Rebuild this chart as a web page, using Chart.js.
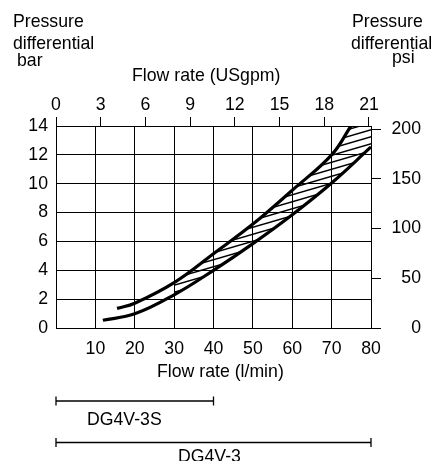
<!DOCTYPE html>
<html>
<head>
<meta charset="utf-8">
<script src="https://cdn.jsdelivr.net/npm/chart.js@4"></script>
<style>
  html, body { margin: 0; padding: 0; background: #fff; }
  canvas { display: block; }
</style>
</head>
<body>
<canvas id="chart" width="438" height="461"></canvas>
<script>
// pressure drop (bar) against flow (l/min), upper and lower limit curves
const upperFlow = [15.5, 20, 30, 40, 50, 60, 70, 74.9, 80];
const upperBar = [1.36, 1.72, 3.15, 5.15, 7.2, 9.55, 12.0, 14, 16.1];
const lowerFlow = [11.9, 20, 30, 40, 50, 60, 70, 80];
const lowerBar = [0.54, 0.98, 2.3, 4.0, 5.85, 7.85, 10.05, 12.55];

// band between the two curves is hatched from this flow on
const hatchFrom = 30;

const flowTicks = [10, 20, 30, 40, 50, 60, 70, 80];
const gpmTicks = [0, 3, 6, 9, 12, 15, 18, 21];
const barTicks = [0, 2, 4, 6, 8, 10, 12, 14];
const psiTicks = [0, 50, 100, 150, 200];

// flow ranges of the two valve sizes, l/min
const rangeNames = ['DG4V-3S', 'DG4V-3'];
const rangeMin = [0, 0];
const rangeMax = [40, 80];

const LPM_PER_GPM = 3.785;
const PSI_PER_BAR = 14.504;
const FONT_SIZE = 17.7;
const FAMILY = '"Liberation Sans", Arial, sans-serif';
const FONT = FONT_SIZE + 'px ' + FAMILY;

const pts = (xs, ys) => xs.map((x, i) => ({ x: x, y: ys[i] }));
const upper = pts(upperFlow, upperBar);
const lower = pts(lowerFlow, lowerBar);

// hatch pattern: thin lines rising to the right
function hatchPattern() {
  const w = 24, h = 7;
  const c = document.createElement('canvas');
  c.width = w;
  c.height = h;
  const g = c.getContext('2d');
  g.strokeStyle = '#000';
  g.lineWidth = 1.5;
  for (let k = -1; k <= 1; k++) {
    g.beginPath();
    g.moveTo(-w, 2 * h + k * h);
    g.lineTo(2 * w, -h + k * h);
    g.stroke();
  }
  return g.createPattern(c, 'repeat');
}

const setTicks = list => scale => {
  scale.ticks = list.map(v => ({ value: v }));
};

const annotations = {
  id: 'annotations',
  afterDraw(chart) {
    const { ctx } = chart;
    const x = chart.scales.x;
    ctx.save();
    ctx.fillStyle = '#000';
    ctx.strokeStyle = '#000';
    ctx.font = FONT;
    ctx.textAlign = 'left';
    ctx.textBaseline = 'alphabetic';
    const labels = [
      ['Pressure', 13, 27], ['differential', 13, 48.5], ['bar', 17, 65.5],
      ['Pressure', 352, 27], ['differential', 351, 48.5], ['psi', 392, 62.5],
      ['Flow rate (USgpm)', 132, 80.5],
      ['Flow rate (l/min)', 157, 376.5]
    ];
    labels.forEach(([t, lx, ly]) => ctx.fillText(t, lx, ly));

    const lineY = [401, 442.5];
    const nameX = [87, 178];
    const nameY = [425, 462];
    ctx.lineWidth = 1.3;
    rangeNames.forEach((name, i) => {
      const x0 = x.getPixelForValue(rangeMin[i]);
      const x1 = x.getPixelForValue(rangeMax[i]);
      const y = lineY[i];
      ctx.beginPath();
      ctx.moveTo(x0, y);
      ctx.lineTo(x1, y);
      ctx.moveTo(x0, y - 4.5);
      ctx.lineTo(x0, y + 4.5);
      ctx.moveTo(x1, y - 4.5);
      ctx.lineTo(x1, y + 4.5);
      ctx.stroke();
      ctx.fillText(name, nameX[i], nameY[i]);
    });
    ctx.restore();
  }
};

const curve = {
  borderColor: '#000',
  borderWidth: 3.2,
  pointRadius: 0,
  fill: false,
  tension: 0.4,
  order: 0
};

const tickFont = { size: FONT_SIZE, family: FAMILY };

new Chart(document.getElementById('chart'), {
  type: 'line',
  data: {
    datasets: [
      {
        data: upper.filter(p => p.x >= hatchFrom),
        borderWidth: 0,
        pointRadius: 0,
        fill: '+1',
        backgroundColor: hatchPattern(),
        tension: 0.4,
        order: 1
      },
      {
        data: lower.filter(p => p.x >= hatchFrom),
        borderWidth: 0,
        pointRadius: 0,
        fill: false,
        tension: 0.4,
        order: 1
      },
      { ...curve, data: upper },
      { ...curve, data: lower }
    ]
  },
  options: {
    responsive: false,
    devicePixelRatio: 1,
    animation: false,
    layout: { padding: { right: 17 } },
    plugins: {
      legend: { display: false },
      tooltip: { enabled: false }
    },
    scales: {
      x: {
        type: 'linear',
        position: 'bottom',
        min: 0,
        max: 80,
        afterBuildTicks: setTicks(flowTicks),
        afterFit: s => { s.height = 133; },
        grid: { color: '#000', lineWidth: 1, drawTicks: false },
        border: { color: '#000', width: 1 },
        ticks: { color: '#000', font: tickFont, padding: 10, maxRotation: 0 }
      },
      xTop: {
        type: 'linear',
        axis: 'x',
        position: 'top',
        min: 0,
        max: 80 / LPM_PER_GPM,
        afterBuildTicks: setTicks(gpmTicks),
        afterFit: s => { s.height = 126; },
        grid: { color: '#000', lineWidth: 1, drawOnChartArea: false, tickLength: 9 },
        border: { color: '#000', width: 1 },
        ticks: { color: '#000', font: tickFont, padding: 1, maxRotation: 0 }
      },
      y: {
        type: 'linear',
        position: 'left',
        min: 0,
        max: 14,
        afterBuildTicks: setTicks(barTicks),
        afterFit: s => { s.width = 56; },
        grid: { color: '#000', lineWidth: 1, drawTicks: false },
        border: { color: '#000', width: 1 },
        ticks: { color: '#000', font: tickFont, padding: 8 }
      },
      yPsi: {
        type: 'linear',
        axis: 'y',
        position: 'right',
        min: 0,
        max: 14 * PSI_PER_BAR,
        afterBuildTicks: setTicks(psiTicks),
        afterFit: s => { s.width = 50; },
        grid: { color: '#000', lineWidth: 1, drawOnChartArea: false, tickLength: 10 },
        border: { color: '#000', width: 1 },
        ticks: { color: '#000', font: tickFont, padding: 10, crossAlign: 'far' }
      }
    }
  },
  plugins: [annotations]
});
</script>
</body>
</html>
